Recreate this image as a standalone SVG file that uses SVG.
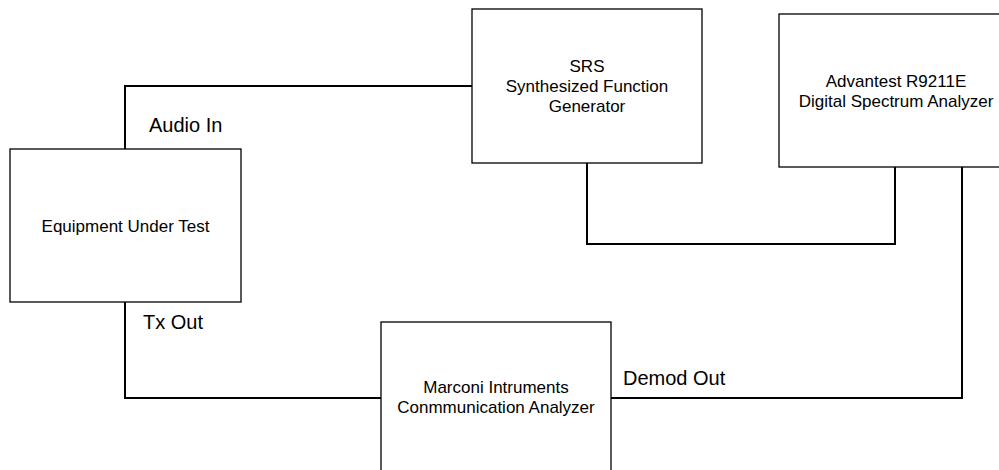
<svg xmlns="http://www.w3.org/2000/svg" width="999" height="470" viewBox="0 0 999 470">
<style>
.box{fill:#ffffff;stroke:#000000;stroke-width:1.3}
.wire{fill:none;stroke:#000000;stroke-width:2}
.t{font-family:"Liberation Sans",Arial,sans-serif;font-size:17px;fill:#000000;text-anchor:middle}
.lbl{font-family:"Liberation Sans",Arial,sans-serif;font-size:20px;fill:#000000}
</style>
<rect width="999" height="470" fill="#ffffff"/>
<g id="connectors">
<polyline class="wire" points="125,149 125,86 472,86"/>
<polyline class="wire" points="587,163 587,244 895,244 895,167"/>
<polyline class="wire" points="125,302 125,398 381,398"/>
<polyline class="wire" points="611,398 962,398 962,167"/>
<text class="lbl" x="149" y="132">Audio In</text>
<text class="lbl" x="143" y="329">Tx Out</text>
<text class="lbl" x="623" y="385">Demod Out</text>
</g>
<g id="eut">
<rect class="box" x="10" y="149" width="231" height="153"/>
<text class="t" x="125.5" y="232">Equipment Under Test</text>
</g>
<g id="srs">
<rect class="box" x="472" y="9" width="230" height="154"/>
<text class="t" x="587" y="72">SRS</text>
<text class="t" x="587" y="92">Synthesized Function</text>
<text class="t" x="587" y="112">Generator</text>
</g>
<g id="advantest">
<rect class="box" x="779" y="14" width="232" height="153"/>
<text class="t" x="896" y="87">Advantest R9211E</text>
<text class="t" x="896" y="107">Digital Spectrum Analyzer</text>
</g>
<g id="marconi">
<rect class="box" x="381" y="322" width="230" height="153"/>
<text class="t" x="496" y="393">Marconi Intruments</text>
<text class="t" x="496" y="413">Conmmunication Analyzer</text>
</g>
</svg>
